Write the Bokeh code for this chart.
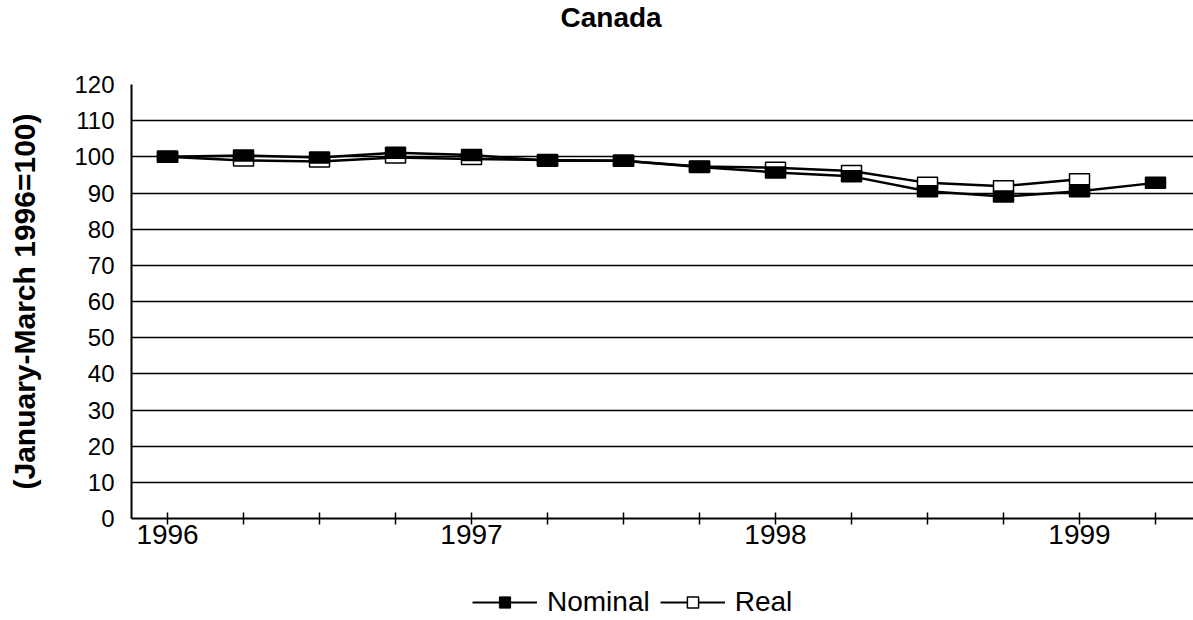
from bokeh.plotting import figure
from bokeh.layouts import column
from bokeh.models import Range1d, FixedTicker, Legend, LegendItem, ColumnDataSource, Label
from bokeh.embed import file_html
from bokeh.resources import INLINE

# ---- data ----
title_text = "Canada"
y_label = "(January-March 1996=100)"
quarters = ["1996", "1996 Q2", "1996 Q3", "1996 Q4",
            "1997", "1997 Q2", "1997 Q3", "1997 Q4",
            "1998", "1998 Q2", "1998 Q3", "1998 Q4",
            "1999", "1999 Q2"]
nominal = [100.0, 100.4, 99.8, 101.1, 100.5, 98.9, 98.9, 97.2, 95.7, 94.6, 90.5, 89.0, 90.5, 92.8]
real = [100.0, 99.0, 98.7, 99.8, 99.4, 99.1, 98.9, 97.3, 97.0, 96.1, 92.8, 91.9, 93.8]
y_ticks = [0, 10, 20, 30, 40, 50, 60, 70, 80, 90, 100, 110, 120]

FONT = "Liberation Sans"

xpos = list(range(len(quarters)))
src_nom = ColumnDataSource(dict(x=xpos[:len(nominal)], y=nominal))
src_real = ColumnDataSource(dict(x=xpos[:len(real)], y=real))

W = 1193
H0, H1, H2 = 40, 535, 45


def strip(height):
    f = figure(width=W, height=height, output_backend="svg", toolbar_location=None,
               x_range=Range1d(0, 1), y_range=Range1d(1000, 1001),
               x_axis_type=None, y_axis_type=None,
               min_border_left=0, min_border_right=0, min_border_top=0, min_border_bottom=0)
    f.outline_line_color = None
    f.xgrid.grid_line_color = None
    f.ygrid.grid_line_color = None
    f.background_fill_color = "white"
    f.border_fill_color = "white"
    return f


# ---- title strip ----
tp = strip(H0)
tp.add_layout(Label(x=429, y=23, x_units="screen", y_units="screen", text=title_text,
                    text_font=FONT, text_font_size="28px", text_font_style="bold",
                    text_color="black", text_baseline="alphabetic", text_align="left"))

# ---- main chart ----
p = figure(width=W, height=H1, output_backend="svg", toolbar_location=None,
           x_range=Range1d(-0.474, 13.50), y_range=Range1d(0, 120),
           min_border_left=131, min_border_right=0, min_border_top=44,
           min_border_bottom=57)
p.outline_line_color = None
p.background_fill_color = "white"
p.border_fill_color = "white"

p.xgrid.grid_line_color = None
p.ygrid.grid_line_color = "black"
p.ygrid.grid_line_width = 1.5
p.ygrid.ticker = FixedTicker(ticks=y_ticks)

ya = p.yaxis[0]
ya.ticker = FixedTicker(ticks=y_ticks)
ya.major_tick_in = 0
ya.major_tick_out = 0
ya.minor_tick_in = 0
ya.minor_tick_out = 0
ya.axis_line_color = "black"
ya.axis_line_width = 2
ya.major_label_text_font = FONT
ya.major_label_text_font_size = "24px"
ya.major_label_text_color = "black"
ya.major_label_standoff = 17
ya.axis_label = y_label
ya.axis_label_text_font = FONT
ya.axis_label_text_font_size = "30px"
ya.axis_label_text_font_style = "bold"
ya.axis_label_text_color = "black"
ya.axis_label_standoff = 30

xa = p.xaxis[0]
xa.ticker = FixedTicker(ticks=xpos)
xa.major_label_overrides = {i: (q if " " not in q else "") for i, q in enumerate(quarters)}
xa.major_tick_in = 6
xa.major_tick_out = 6
xa.minor_tick_in = 0
xa.minor_tick_out = 0
xa.major_tick_line_color = "black"
xa.major_tick_line_width = 1.5
xa.axis_line_color = "black"
xa.axis_line_width = 2
xa.major_label_text_font = FONT
xa.major_label_text_font_size = "28px"
xa.major_label_text_color = "black"
xa.major_label_standoff = 0

p.line("x", "y", source=src_real, line_color="black", line_width=2.5)
p.rect("x", "y", width=20, height=11, width_units="screen", height_units="screen",
       source=src_real, fill_color="white", line_color="black", line_width=1.5)
p.line("x", "y", source=src_nom, line_color="black", line_width=2.5)
p.rect("x", "y", width=20, height=11, width_units="screen", height_units="screen",
       source=src_nom, fill_color="black", line_color="black", line_width=1.5)

# ---- legend strip (same data, out of view) ----
lg = strip(H2)
ln_nom = lg.line("x", "y", source=src_nom, line_color="black", line_width=2)
mk_nom = lg.scatter("x", "y", source=src_nom, marker="square", size=11,
                    fill_color="black", line_color="black")
ln_real = lg.line("x", "y", source=src_real, line_color="black", line_width=2)
mk_real = lg.scatter("x", "y", source=src_real, marker="square", size=11,
                     fill_color="white", line_color="black", line_width=1.5)

legend = Legend(items=[LegendItem(label="Nominal", renderers=[ln_nom, mk_nom]),
                       LegendItem(label="Real", renderers=[ln_real, mk_real])],
                orientation="horizontal", location=(341, 2),
                label_text_font=FONT, label_text_font_size="28px",
                label_text_color="black",
                glyph_width=65, glyph_height=28, label_standoff=10, spacing=10,
                padding=0, margin=0, border_line_color=None,
                background_fill_alpha=0)
lg.add_layout(legend, "center")

layout = column(tp, p, lg, spacing=0)
open("out.html", "w").write(file_html(layout, INLINE))
